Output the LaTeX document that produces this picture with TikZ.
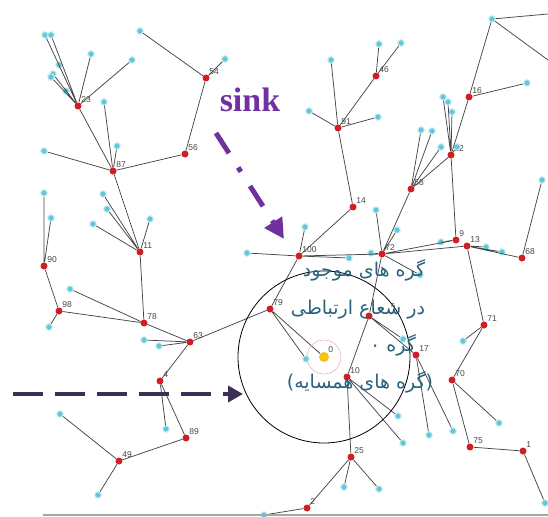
\documentclass[tikz,border=0pt]{standalone}
\usepackage{fontspec}
\usetikzlibrary{arrows.meta}
\TeXXeTstate=1
\newfontfamily\farsifont[Script=Arabic]{DejaVu Sans}
\newfontfamily\lblfont{Liberation Sans}
\newfontfamily\sinkfont{Liberation Serif}
\definecolor{nodered}{RGB}{210,30,35}
\definecolor{leafcyan}{RGB}{95,200,220}
\definecolor{linkgray}{RGB}{70,70,70}
\definecolor{labelgray}{RGB}{70,70,70}
\definecolor{sinkpurple}{RGB}{112,48,160}
\definecolor{hintnavy}{RGB}{58,48,85}
\definecolor{fatextc}{RGB}{40,98,125}
\definecolor{basegold}{RGB}{245,195,20}
\definecolor{rangepink}{RGB}{240,175,185}
\begin{document}
\begin{tikzpicture}[x=1pt,y=-1pt]
  \tikzstyle{sensor} = [circle,inner sep=0pt,minimum size=7pt,fill=nodered]
  \tikzstyle{leaf}   = [circle,inner sep=0pt,minimum size=6.5pt,fill=leafcyan,draw=leafcyan!35,line width=1pt]
  \tikzstyle{base}   = [circle,inner sep=0pt,minimum size=10pt,fill=basegold]
  \tikzstyle{lbl}    = [font=\lblfont\fontsize{8.5}{8.5}\selectfont,text=labelgray,inner sep=0.5pt]
  \tikzstyle{link}   = [draw=linkgray,line width=0.75pt]
  \tikzstyle{fatext} = [font=\farsifont\fontsize{19}{19}\selectfont,text=fatextc,inner sep=0pt]
  \useasboundingbox (0,0) rectangle (548,516);
  % relay nodes (red) with their ids
  \path ( 78,106) node[sensor,label={[lbl]above right:23}](n23) {};
  \path (206, 78) node[sensor,label={[lbl]above right:54}](n54) {};
  \path (185,154) node[sensor,label={[lbl]above right:56}](n56) {};
  \path (113,171) node[sensor,label={[lbl]above right:87}](n87) {};
  \path (140,252) node[sensor,label={[lbl]above right:11}](n11) {};
  \path ( 44,266) node[sensor,label={[lbl]above right:90}](n90) {};
  \path ( 59,311) node[sensor,label={[lbl]above right:98}](n98) {};
  \path (144,323) node[sensor,label={[lbl]above right:78}](n78) {};
  \path (190,342) node[sensor,label={[lbl]above right:63}](n63) {};
  \path (160,381) node[sensor,label={[lbl]above right:4}](n4) {};
  \path (186,438) node[sensor,label={[lbl]above right:89}](n89) {};
  \path (119,461) node[sensor,label={[lbl]above right:49}](n49) {};
  \path (270,309) node[sensor,label={[lbl]above right:79}](n79) {};
  \path (299,256) node[sensor,label={[lbl]above right:100}](n100) {};
  \path (353,207) node[sensor,label={[lbl]above right:14}](n14) {};
  \path (338,128) node[sensor,label={[lbl]above right:91}](n91) {};
  \path (376, 76) node[sensor,label={[lbl]above right:46}](n46) {};
  \path (382,254) node[sensor,label={[lbl]above right:72}](n72) {};
  \path (411,189) node[sensor,label={[lbl]above right:58}](n58) {};
  \path (451,155) node[sensor,label={[lbl]above right:12}](n12) {};
  \path (469, 97) node[sensor,label={[lbl]above right:16}](n16) {};
  \path (456,240) node[sensor,label={[lbl]above right:9}](n9) {};
  \path (467,246) node[sensor,label={[lbl]above right:13}](n13) {};
  \path (522,258) node[sensor,label={[lbl]above right:68}](n68) {};
  \path (369,316) node[sensor](n36) {};
  \path (416,355) node[sensor,label={[lbl]above right:17}](n17) {};
  \path (347,377) node[sensor,label={[lbl]above right:10}](n10) {};
  \path (351,457) node[sensor,label={[lbl]above right:25}](n25) {};
  \path (307,508) node[sensor,label={[lbl]above right:2}](n2) {};
  \path (484,325) node[sensor,label={[lbl]above right:71}](n71) {};
  \path (452,380) node[sensor,label={[lbl]above right:70}](n70) {};
  \path (470,447) node[sensor,label={[lbl]above right:75}](n75) {};
  \path (523,451) node[sensor,label={[lbl]above right:1}](n1) {};
  \path (324,357) node[base,label={[lbl]above right:0}](n0) {};
  % leaf nodes (cyan)
  \path ( 45, 35) node[leaf](c1) {};
  \path ( 51, 35) node[leaf](c2) {};
  \path ( 91, 54) node[leaf](c3) {};
  \path (132, 60) node[leaf](c4) {};
  \path ( 59, 65) node[leaf](c5) {};
  \path ( 53, 74) node[leaf](c6) {};
  \path ( 51, 77) node[leaf](c7) {};
  \path ( 66, 91) node[leaf](c8) {};
  \path (104,102) node[leaf](c9) {};
  \path (117,146) node[leaf](c10) {};
  \path ( 44,151) node[leaf](c11) {};
  \path (140, 31) node[leaf](c12) {};
  \path (225, 59) node[leaf](c13) {};
  \path (103,194) node[leaf](c14) {};
  \path (107,209) node[leaf](c15) {};
  \path ( 93,224) node[leaf](c16) {};
  \path (150,219) node[leaf](c17) {};
  \path ( 44,193) node[leaf](c18) {};
  \path ( 51,218) node[leaf](c19) {};
  \path ( 49,327) node[leaf](c20) {};
  \path ( 70,289) node[leaf](c21) {};
  \path (144,340) node[leaf](c22) {};
  \path (159,346) node[leaf](c23) {};
  \path (166,429) node[leaf](c24) {};
  \path ( 60,414) node[leaf](c25) {};
  \path ( 98,495) node[leaf](c26) {};
  \path (306,359) node[leaf](c27) {};
  \path (247,253) node[leaf](c28) {};
  \path (305,227) node[leaf](c29) {};
  \path (349,258) node[leaf](c30) {};
  \path (331, 60) node[leaf](c31) {};
  \path (309,111) node[leaf](c32) {};
  \path (378,117) node[leaf](c33) {};
  \path (379, 44) node[leaf](c34) {};
  \path (401, 43) node[leaf](c35) {};
  \path (371,253) node[leaf](c36) {};
  \path (376,210) node[leaf](c37) {};
  \path (397,230) node[leaf](c38) {};
  \path (420,275) node[leaf](c39) {};
  \path (421,130) node[leaf](c40) {};
  \path (432,131) node[leaf](c41) {};
  \path (441,147) node[leaf](c42) {};
  \path (443, 97) node[leaf](c43) {};
  \path (448,102) node[leaf](c44) {};
  \path (452,112) node[leaf](c45) {};
  \path (457,147) node[leaf](c46) {};
  \path (492, 19) node[leaf](c47) {};
  \path (527, 83) node[leaf](c48) {};
  \path (441,242) node[leaf](c49) {};
  \path (486,247) node[leaf](c50) {};
  \path (502,252) node[leaf](c51) {};
  \path (542,180) node[leaf](c52) {};
  \path (403,339) node[leaf](c53) {};
  \path (429,435) node[leaf](c54) {};
  \path (453,431) node[leaf](c55) {};
  \path (398,416) node[leaf](c56) {};
  \path (403,443) node[leaf](c57) {};
  \path (344,487) node[leaf](c58) {};
  \path (379,489) node[leaf](c59) {};
  \path (264,515) node[leaf](c60) {};
  \path (463,341) node[leaf](c61) {};
  \path (499,423) node[leaf](c62) {};
  \path (545,503) node[leaf](c63) {};
  \coordinate (e1) at (548,14);
  \coordinate (e2) at (548,60);
  % links of the tree
  \draw[link] (n23) -- (c1) (n23) -- (c2) (n23) -- (c3) (n23) -- (c4)
              (n23) -- (c5) (n23) -- (c6) (n23) -- (c7) (n23) -- (c8);
  \draw[link] (n87) -- (n23) (n87) -- (c9) (n87) -- (c10) (n87) -- (c11)
              (n87) -- (n56) (n87) -- (n11);
  \draw[link] (n54) -- (c12) (n54) -- (c13) (n54) -- (n56);
  \draw[link] (n11) -- (c14) (n11) -- (c15) (n11) -- (c16) (n11) -- (c17) (n11) -- (n78);
  \draw[link] (n90) -- (c18) (n90) -- (c19) (n90) -- (n98);
  \draw[link] (n98) -- (c20) (n98) -- (n78);
  \draw[link] (n78) -- (c21) (n78) -- (n63);
  \draw[link] (n63) -- (c22) (n63) -- (c23) (n63) -- (n4) (n63) -- (n79);
  \draw[link] (n4) -- (c24) (n4) -- (n89) (n89) -- (n49);
  \draw[link] (n49) -- (c25) (n49) -- (c26);
  \draw[link] (n79) -- (n100) (n79) -- (n0) (n79) -- (c27);
  \draw[link] (n100) -- (c28) (n100) -- (c29) (n100) -- (c30) (n100) -- (n14) (n100) -- (n72);
  \draw[link] (n14) -- (n91);
  \draw[link] (n91) -- (c31) (n91) -- (c32) (n91) -- (c33) (n91) -- (n46);
  \draw[link] (n46) -- (c34) (n46) -- (c35);
  \draw[link] (n72) -- (c36) (n72) -- (c37) (n72) -- (c38) (n72) -- (c39)
              (n72) -- (n58) (n72) -- (n9) (n72) -- (n13) (n72) -- (n36);
  \draw[link] (n58) -- (c40) (n58) -- (c41) (n58) -- (c42) (n58) -- (n12);
  \draw[link] (n12) -- (c43) (n12) -- (c44) (n12) -- (c45) (n12) -- (c46)
              (n12) -- (n16) (n12) -- (n9);
  \draw[link] (n16) -- (c47) (n16) -- (c48) (c47) -- (e1) (c47) -- (e2);
  \draw[link] (n9) -- (c49);
  \draw[link] (n13) -- (c50) (n13) -- (c51) (n13) -- (n68) (n13) -- (n71);
  \draw[link] (n68) -- (c52);
  \draw[link] (n36) -- (c53) (n36) -- (n17) (n36) -- (n10);
  \draw[link] (n17) -- (c54) (n17) -- (c55);
  \draw[link] (n10) -- (c56) (n10) -- (c57) (n10) -- (n25);
  \draw[link] (n25) -- (c58) (n25) -- (c59) (n25) -- (n2) (n2) -- (c60);
  \draw[link] (n71) -- (c61) (n71) -- (n70);
  \draw[link] (n70) -- (c62) (n70) -- (n75) (n75) -- (n1) (n1) -- (c63);
  % range of node 0
  \draw[rangepink,line width=0.6pt] (n0) circle[radius=17];
  \draw[black,line width=0.8pt] (n0) circle[radius=86];
  \coordinate (b1) at (43,515);
  \coordinate (b2) at (548,515);
  \draw[gray!70,line width=2pt] (b1) -- (b2);
  % annotations
  \node[fatext] (t1) at (364,270) {\beginR گره های موجود\endR};
  \node[fatext] (t2) at (358,310) {\beginR در شعاع ارتباطی\endR};
  \node[fatext] (t3) at (393,345) {\beginR گره ۰\endR};
  \node[fatext] (t4) at (360,382) {\beginR(گره های همسایه)\endR};
  \node[font=\sinkfont\bfseries\fontsize{34}{34}\selectfont,text=sinkpurple,inner sep=0pt] (sink) at (250,100) {sink};
  \coordinate (sa) at (216,133);
  \coordinate (sb) at (284,239);
  \draw[sinkpurple,line width=5pt,dash pattern=on 24pt off 17pt on 5pt off 17pt,
        -{Triangle[length=20pt,width=20pt]}] (sa) -- (sb);
  \coordinate (ha) at (13,394);
  \coordinate (hb) at (243,394);
  \draw[hintnavy,line width=4.5pt,dash pattern=on 30pt off 12pt,
        -{Triangle[length=15pt,width=16pt]}] (ha) -- (hb);
\end{tikzpicture}
\end{document}
